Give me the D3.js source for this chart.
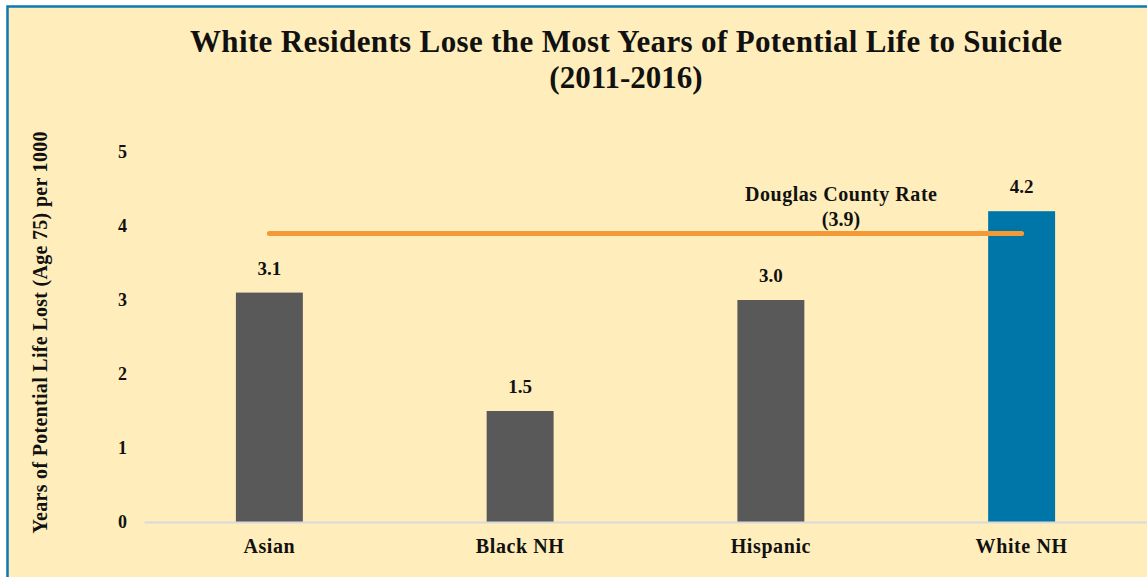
<!DOCTYPE html>
<html>
<head>
<meta charset="utf-8">
<script src="https://cdn.jsdelivr.net/npm/d3@7"></script>
<style>
  html, body { margin: 0; padding: 0; background: #ffffff; }
  svg { display: block; }
  text { font-family: "Liberation Serif", "DejaVu Serif", serif; fill: #111; }
</style>
</head>
<body>
<svg id="chart" width="1147" height="577"></svg>
<script>
// Years of potential life lost to suicide by race/ethnicity, 2011-2016
const groups = ["Asian", "Black NH", "Hispanic", "White NH"];
const yplValues = [3.1, 1.5, 3.0, 4.2];
const barColors = ["#595959", "#595959", "#595959", "#0076A8"];
const countyRate = 3.9;
const yTicks = [0, 1, 2, 3, 4, 5];
const titleLines = ["White Residents Lose the Most Years of Potential Life to Suicide", "(2011-2016)"];
const yAxisTitle = "Years of Potential Life Lost (Age 75) per 1000";
const countyLabel = ["Douglas County Rate", "(3.9)"];

const W = 1147, H = 577;
const svg = d3.select("#chart");

// panel background with blue frame on top and left
svg.append("rect").attr("x", 7).attr("y", 6).attr("width", W - 7).attr("height", H - 6)
  .attr("fill", "#FFEEBB");
svg.append("path").attr("d", `M7.5,${H} V6.5 H${W}`)
  .attr("fill", "none").attr("stroke", "#0E78B2").attr("stroke-width", 2.5);

const plot = { left: 144, right: 1147, top: 152, bottom: 522 };

const x = d3.scaleBand().domain(groups).range([plot.left, plot.right])
  .paddingInner(0.733).paddingOuter(0.3665);
const y = d3.scaleLinear().domain([0, 5]).range([plot.bottom, plot.top]);

// title
const title = svg.append("text").attr("text-anchor", "middle")
  .style("font-size", "31px").style("font-weight", "bold");
title.append("tspan").attr("x", 626).attr("y", 52)
  .attr("textLength", 872).attr("lengthAdjust", "spacing").text(titleLines[0]);
title.append("tspan").attr("x", 626).attr("y", 88).text(titleLines[1]);

// y axis title
svg.append("text")
  .attr("transform", `translate(47,${(130 + 535) / 2}) rotate(-90)`)
  .attr("text-anchor", "middle")
  .style("font-size", "20px").style("font-weight", "bold")
  .attr("textLength", 402).attr("lengthAdjust", "spacing")
  .text(yAxisTitle);

// y axis tick labels (no line)
const yAxis = d3.axisLeft(y).tickValues(yTicks).tickSize(0).tickPadding(0).tickFormat(d3.format("d"));
const yg = svg.append("g").attr("transform", `translate(127,0)`).call(yAxis);
yg.select(".domain").remove();
yg.selectAll("text").style("font-size", "18px").style("font-weight", "bold")
  .style("font-family", "'Liberation Serif', serif").attr("fill", "#111");

// bars
svg.append("g").selectAll("rect").data(groups).join("rect")
  .attr("x", d => x(d))
  .attr("width", x.bandwidth())
  .attr("y", (d, i) => y(yplValues[i]))
  .attr("height", (d, i) => y(0) - y(yplValues[i]))
  .attr("fill", (d, i) => barColors[i]);

// baseline / x axis
const xAxis = d3.axisBottom(x).tickSize(0).tickPadding(17);
const xg = svg.append("g").attr("transform", `translate(0,${plot.bottom})`).call(xAxis);
xg.select(".domain").attr("stroke", "#D9D9D9").attr("stroke-width", 2);
xg.selectAll("text").style("font-size", "20px").style("font-weight", "bold")
  .style("letter-spacing", "0.6px")
  .style("font-family", "'Liberation Serif', serif").attr("fill", "#111");

// value labels
svg.append("g").selectAll("text").data(groups).join("text")
  .attr("x", d => x(d) + x.bandwidth() / 2)
  .attr("y", (d, i) => y(yplValues[i]) - 18)
  .attr("text-anchor", "middle")
  .style("font-size", "19px").style("font-weight", "bold")
  .text((d, i) => yplValues[i].toFixed(1));

// county rate reference line
const cx0 = x(groups[0]) + x.bandwidth() / 2;
const cx1 = x(groups[groups.length - 1]) + x.bandwidth() / 2;
svg.append("line")
  .attr("x1", cx0).attr("x2", cx1)
  .attr("y1", y(countyRate)).attr("y2", y(countyRate))
  .attr("stroke", "#F39A36").attr("stroke-width", 5).attr("stroke-linecap", "round");

const cl = svg.append("text").attr("text-anchor", "middle")
  .style("font-size", "20px").style("font-weight", "bold");
cl.append("tspan").attr("x", 841).attr("y", 201)
  .attr("textLength", 192).attr("lengthAdjust", "spacing").text(countyLabel[0]);
cl.append("tspan").attr("x", 841).attr("y", 226).text(countyLabel[1]);
</script>
</body>
</html>
